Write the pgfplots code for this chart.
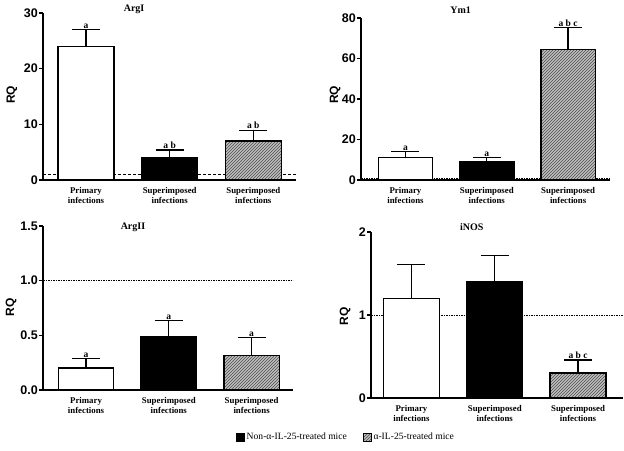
\documentclass[border=0pt]{standalone}
\usepackage{fontspec}
\setmainfont{Liberation Serif}
\newfontfamily\sansf{Liberation Sans}
\usepackage{pgfplots}
\pgfplotsset{compat=1.18}
\usetikzlibrary{patterns}

% common look of the four RQ panels
\pgfplotsset{
  rqpanel/.style={
    scale only axis,
    anchor=south west,
    axis lines=left,
    axis line style={-, line width=1.3pt},
    ymin=0,
    ybar,
    xtick={1,2,3},
    xticklabels={{Primary\\infections},{Superimposed\\infections},{Superimposed\\infections}},
    xtick style={draw=none},
    xticklabel style={align=center, font=\bfseries\fontsize{8.8}{9.8}\selectfont},
    ytick style={line width=1.3pt, black},
    tick align=outside,
    major tick length=4pt,
    yticklabel style={font=\sansf\bfseries\fontsize{12.5}{13}\selectfont, inner sep=1pt},
    /pgf/number format/assume math mode=true,
    ylabel={RQ},
    ylabel style={font=\sansf\bfseries\fontsize{12}{13}\selectfont, anchor=center},
    clip=false,
  },
  barbase/.style={
    draw=black, line width=1.3pt, bar width=0.67, bar shift=0pt,
    error bars/y dir=plus, error bars/y explicit,
    error bars/error bar style={line width=1.3pt, black, solid},
    error bars/error mark options={rotate=90, line width=1.3pt, mark size=14pt, black},
  },
  barW/.style={barbase, fill=white},
  barB/.style={barbase, fill=black},
  barH/.style={barbase, fill=gray!50, postaction={pattern=north east lines, pattern color=black!70}},
  refline/.style={black, line width=0.6pt, dash pattern=on 1.5pt off 1pt, forget plot},
  sqlegend/.style={legend image code/.code={\draw[##1, line width=0.6pt] (0pt,-4pt) rectangle (8pt,4pt);}},
}
\tikzset{
  sig/.style={font=\bfseries\fontsize{9.5}{10}\selectfont, anchor=south, inner sep=1pt},
  ptitle/.style={font=\bfseries\fontsize{10}{11}\selectfont},
}

\begin{document}
\begin{tikzpicture}
\path[use as bounding box] (0pt,0pt) rectangle (624pt,450pt);

% ---- ArgI ----
\begin{axis}[rqpanel, at={(43pt,270pt)}, width=253pt, height=167pt,
  xmin=0.486, xmax=3.51, ymax=30, ytick={0,10,20,30},
  ylabel style={at={(rel axis cs:-0.123,0.51)}}]
\addplot[black, line width=1pt, dash pattern=on 3pt off 2pt, forget plot, sharp plot] coordinates {(0.486,1) (3.51,1)};
\addplot[barW] coordinates {(1,24) +- (0,3)};
\addplot[barB] coordinates {(2,4) +- (0,1.4)};
\addplot[barH] coordinates {(3,7) +- (0,1.95)};
\node[sig] at (axis cs:1,27) {a};
\node[sig] at (axis cs:2,5.4) {a b};
\node[sig] at (axis cs:3,8.95) {a b};
\node[ptitle] at (rel axis cs:0.36,1.02) {ArgI};
\end{axis}

% ---- Ym1 ----
\begin{axis}[rqpanel, at={(361pt,270pt)}, width=249pt, height=162pt,
  xmin=0.453, xmax=3.515, ymax=80, ytick={0,20,40,60,80},
  ylabel style={at={(rel axis cs:-0.104,0.525)}}]
\addplot[refline, sharp plot] coordinates {(0.453,1) (3.515,1)};
\addplot[barW] coordinates {(1,11) +- (0,3)};
\addplot[barB] coordinates {(2,9) +- (0,2)};
\addplot[barH] coordinates {(3,64.4) +- (0,11)};
\node[sig] at (axis cs:1,14) {a};
\node[sig] at (axis cs:2,11) {a};
\node[sig] at (axis cs:3,75.4) {a b c};
\node[ptitle] at (rel axis cs:0.40,1.05) {Ym1};
\end{axis}

% ---- ArgII ----
\begin{axis}[rqpanel, at={(43pt,60pt)}, width=250pt, height=164pt,
  xmin=0.48, xmax=3.5, ymax=1.5, ytick={0,0.5,1,1.5},
  yticklabel style={/pgf/number format/.cd, fixed, fixed zerofill, precision=1},
  ylabel style={at={(rel axis cs:-0.128,0.506)}}]
\addplot[refline, sharp plot] coordinates {(0.48,1) (3.5,1)};
\addplot[barW] coordinates {(1,0.2) +- (0,0.09)};
\addplot[barB] coordinates {(2,0.487) +- (0,0.146)};
\addplot[barH] coordinates {(3,0.316) +- (0,0.162)};
\node[sig] at (axis cs:1,0.29) {a};
\node[sig] at (axis cs:2,0.633) {a};
\node[sig] at (axis cs:3,0.478) {a};
\node[ptitle] at (rel axis cs:0.36,0.99) {ArgII};
\end{axis}

% ---- iNOS ----
\begin{axis}[rqpanel, at={(371pt,52pt)}, width=252pt, height=166pt,
  xmin=0.514, xmax=3.54, ymax=2, ytick={0,1,2},
  ylabel style={at={(rel axis cs:-0.103,0.49)}},
  legend style={draw=none, fill=none, legend columns=2, at={(-0.099,-0.235)}, anchor=center,
    font=\fontsize{9.6}{10}\selectfont,
    /tikz/every even column/.append style={column sep=14pt}},
  ]
\addplot[refline, sharp plot] coordinates {(0.514,1) (3.54,1)};
\addplot[barW, forget plot] coordinates {(1,1.2) +- (0,0.41)};
\addplot[barB, sqlegend] coordinates {(2,1.4) +- (0,0.32)};
\addlegendentry{Non-α-IL-25-treated mice}
\addplot[barH, sqlegend] coordinates {(3,0.3) +- (0,0.157)};
\addlegendentry{α-IL-25-treated mice}
\node[sig] at (axis cs:3,0.457) {a b c};
\node[ptitle] at (rel axis cs:0.40,1.03) {iNOS};
\end{axis}
\end{tikzpicture}
\end{document}
